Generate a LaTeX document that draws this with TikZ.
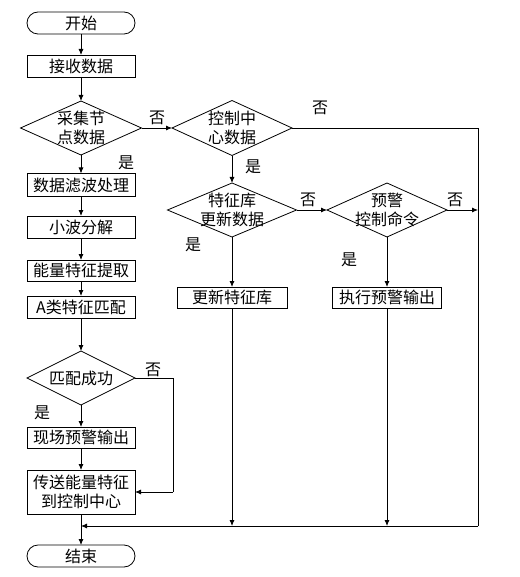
\documentclass[tikz,border=0pt]{standalone}
\usepackage{fontspec}
\setmainfont{Noto Sans CJK SC}
\usetikzlibrary{arrows.meta,shapes.geometric}
\begin{document}
\begin{tikzpicture}[x=1pt,y=-1pt,
  font=\fontsize{16}{19}\selectfont,
  every node/.style={inner sep=0pt,outer sep=0pt},
  box/.style={draw,line width=0.8pt,rectangle,minimum width=108pt,minimum height=22pt,align=center},
  term/.style={draw,line width=0.8pt,rectangle,rounded corners=11pt,minimum width=108pt,minimum height=22pt},
  dia/.style={draw,line width=0.8pt,diamond,inner sep=0pt},
  txt/.style={align=center},
  lab/.style={},
  ln/.style={line width=0.8pt},
  arr/.style={line width=0.8pt,-{Latex[length=6pt,width=5pt]}}]
\useasboundingbox (0,0) rectangle (519,577);
% left column
\node[term] (start) at (81,23) {开始};
\node[box] (recv) at (81,66) {接收数据};
\node[dia,minimum width=121pt,minimum height=54pt] (d1) at (81,128) {};
\node[txt] at (d1) {采集节\\点数据};
\node[box,minimum height=23pt] (filt) at (81,185) {数据滤波处理};
\node[box] (wave) at (81,227) {小波分解};
\node[box,minimum height=21pt] (ener) at (81,270.5) {能量特征提取};
\node[box] (amat) at (81,307) {A类特征匹配};
\node[dia,minimum width=108pt,minimum height=54pt] (d4) at (81,378) {};
\node[txt] at (d4) {匹配成功};
\node[box,minimum height=21pt] (alarm) at (81,437.5) {现场预警输出};
\node[box,minimum height=44pt] (send) at (81,492) {传送能量特征\\到控制中心};
\node[term] (stop) at (81,556) {结束};
% right part
\node[dia,minimum width=120pt,minimum height=55pt] (d2) at (232,128) {};
\node[txt] at (d2) {控制中\\心数据};
\node[dia,minimum width=129pt,minimum height=54pt] (d3) at (232,210) {};
\node[txt] at (d3) {特征库\\更新数据};
\node[dia,minimum width=120pt,minimum height=54pt] (d5) at (387,210) {};
\node[txt] at (d5) {预警\\控制命令};
\node[box,minimum width=110pt,minimum height=21pt] (upd) at (232,297.5) {更新特征库};
\node[box,minimum width=109pt,minimum height=21pt] (exec) at (387,297.5) {执行预警输出};
% coordinates
\coordinate (rtop) at (478,128);
\coordinate (rmid) at (478,210);
\coordinate (rbot) at (478,526);
\coordinate (jl) at (81,526);
\coordinate (ju) at (232,526);
\coordinate (je) at (387,526);
\coordinate (nt) at (173,378);
\coordinate (nb) at (173,492);
% connectors
\draw[arr] (start) -- (recv);
\draw[arr] (recv) -- (d1);
\draw[arr] (d1) -- (filt);
\draw[arr] (filt) -- (wave);
\draw[arr] (wave) -- (ener);
\draw[arr] (ener) -- (amat);
\draw[arr] (amat) -- (d4);
\draw[arr] (d4) -- (alarm);
\draw[arr] (alarm) -- (send);
\draw[arr] (send) -- (stop);
\draw[arr] (d1.east) -- (d2.west);
\draw[ln] (d2.east) -- (rtop) -- (rbot);
\draw[arr] (rbot) -- (jl);
\draw[arr] (d2) -- (d3);
\draw[arr] (d3.east) -- (d5.west);
\draw[arr] (d5.east) -- (rmid);
\draw[arr] (d3) -- (upd);
\draw[arr] (d5) -- (exec);
\draw[arr] (upd) -- (ju);
\draw[arr] (exec) -- (je);
\draw[ln] (d4.east) -- (nt) -- (nb);
\draw[arr] (nb) -- (send.east);
% labels
\node[lab] (l1) at (157,118) {否};
\node[lab] (l2) at (126,163) {是};
\node[lab] (l3) at (320,108) {否};
\node[lab] (l4) at (253,167) {是};
\node[lab] (l5) at (308,200) {否};
\node[lab] (l6) at (455,200) {否};
\node[lab] (l7) at (193,245) {是};
\node[lab] (l8) at (349,260) {是};
\node[lab] (l9) at (153,370) {否};
\node[lab] (l10) at (42,413) {是};
\end{tikzpicture}
\end{document}
